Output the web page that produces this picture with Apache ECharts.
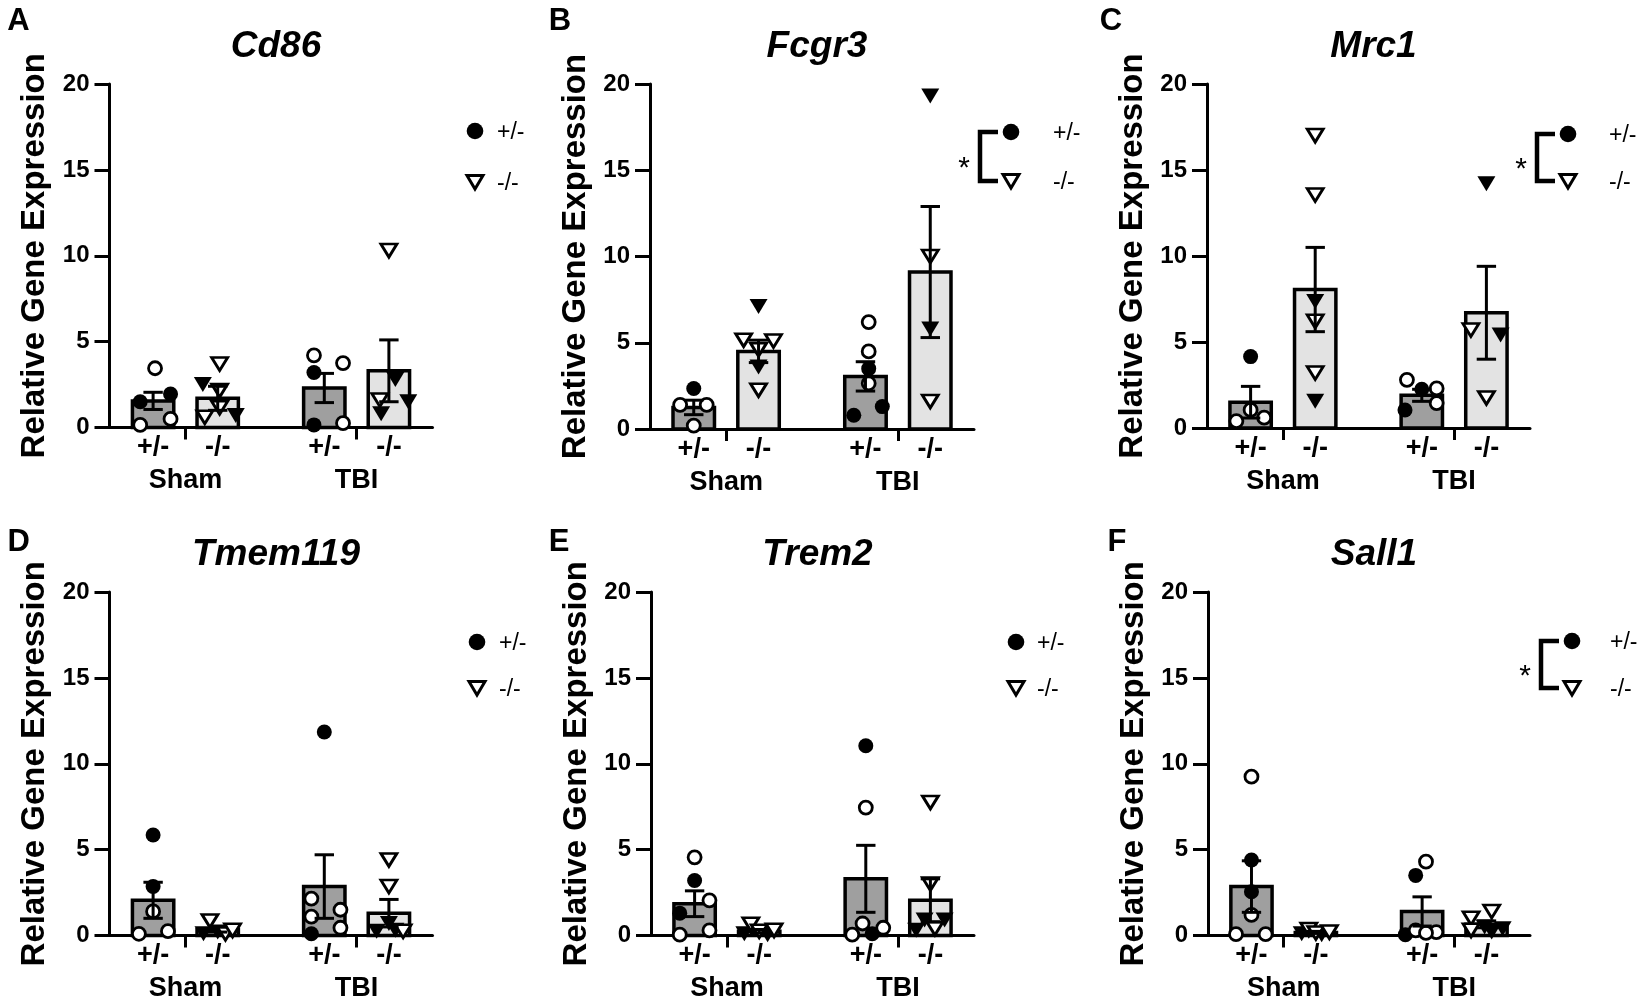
<!DOCTYPE html>
<html>
<head>
<meta charset="utf-8">
<script src="https://cdn.jsdelivr.net/npm/echarts@6/dist/echarts.min.js"></script>
<style>
html,body{margin:0;padding:0;background:#fff;}
#chart{width:1644px;height:1003px;}
</style>
</head>
<body>
<div id="chart"></div>
<script>
// ---------- data ----------
const genes = ['Cd86', 'Fcgr3', 'Mrc1', 'Tmem119', 'Trem2', 'Sall1'];
const panelLetters = ['A', 'B', 'C', 'D', 'E', 'F'];
const groupLabels = ['Sham', 'TBI'];
const genotypeLabels = ['+/-', '-/-', '+/-', '-/-'];
const yTickValues = [0, 5, 10, 15, 20];
const significant = [false, true, true, false, false, true];

// bar order: Sham +/-, Sham -/-, TBI +/-, TBI -/-
const cd86Mean = [1.55, 1.7, 2.3, 3.3];
const cd86Sem = [0.5, 0.7, 0.85, 1.8];
const cd86Points = [[3.45, 1.5, 1.95, 0.15, 0.5], [3.7, 2.5, 2.15, 1.15, 0.6, 0.7], [4.2, 3.2, 3.75, 0.15, 0.25], [10.3, 2.8, 1.6, 0.8, 1.5]];
const cd86Filled = [[0, 1, 1, 0, 0], [0, 1, 0, 0, 0, 1], [0, 1, 0, 1, 0], [0, 1, 0, 1, 1]];
const cd86Spread = [[0.03, -0.2, 0.27, -0.2, 0.27], [0.03, -0.23, 0.03, 0.03, -0.2, 0.28], [-0.16, -0.16, 0.29, -0.16, 0.29], [0, 0.1, -0.14, -0.12, 0.3]];

const fcgr3Mean = [1.25, 4.5, 3.05, 9.1];
const fcgr3Sem = [0.42, 0.65, 0.85, 3.8];
const fcgr3Points = [[2.35, 1.4, 1.4, 0.2], [7.1, 5.15, 5.1, 4.6, 3.6, 2.25], [6.2, 4.5, 3.5, 2.65, 0.8, 1.3], [19.3, 10.0, 5.8, 1.6]];
const fcgr3Filled = [[1, 0, 0, 0], [1, 0, 0, 0, 1, 0], [0, 0, 1, 0, 1, 1], [1, 0, 1, 0]];
const fcgr3Spread = [[0, -0.21, 0.2, 0], [0, -0.23, 0.23, 0, 0, 0], [0.05, 0.05, 0.05, 0.05, -0.18, 0.26], [0, 0, 0, 0]];

const mrc1Mean = [1.5, 8.05, 1.9, 6.7];
const mrc1Sem = [0.92, 2.45, 0.35, 2.7];
const mrc1Points = [[4.15, 1.05, 0.4, 0.6], [17.0, 13.55, 7.35, 6.2, 3.2, 1.55], [2.8, 2.25, 2.3, 1.05, 1.45], [14.2, 5.7, 5.4, 1.75]];
const mrc1Filled = [[1, 0, 0, 0], [0, 0, 1, 0, 0, 1], [0, 1, 0, 1, 0], [1, 0, 1, 0]];
const mrc1Spread = [[0, 0, -0.22, 0.21], [0, 0, 0, 0, 0, 0], [-0.23, 0, 0.23, -0.26, 0.23], [0, -0.24, 0.22, 0]];

const tmem119Mean = [2.05, 0.35, 2.85, 1.3];
const tmem119Sem = [1.05, 0.15, 1.85, 0.8];
const tmem119Points = [[5.85, 2.85, 1.4, 0.1, 0.25], [0.85, 0.1, 0.2, 0.1, 0.3], [11.85, 2.15, 1.1, 1.5, 0.45, 0.1], [4.4, 2.85, 0.7, 0.25, 0.25, 0.3]];
const tmem119Filled = [[1, 1, 0, 0, 0], [0, 1, 1, 0, 0], [1, 0, 0, 0, 0, 1], [0, 0, 1, 1, 0, 1]];
const tmem119Spread = [[0, 0, 0, -0.22, 0.23], [-0.12, -0.22, 0, 0.12, 0.23], [0, -0.2, -0.2, 0.25, 0.25, -0.2], [0, 0, 0, -0.19, 0.22, 0.1]];

const trem2Mean = [1.85, 0.25, 3.3, 2.05];
const trem2Sem = [0.75, 0.1, 1.95, 1.25];
const trem2Points = [[4.55, 3.2, 2.05, 1.3, 0.05, 0.3], [0.65, 0.1, 0.25, 0.05, 0.3], [11.05, 7.45, 0.7, 0.45, 0.1, 0.05], [7.75, 3.0, 0.3, 0.9, 0.4, 0.9]];
const trem2Filled = [[0, 1, 0, 1, 0, 0], [0, 1, 0, 1, 0], [1, 0, 0, 0, 1, 0], [0, 0, 1, 1, 0, 1]];
const trem2Spread = [[0, 0, 0.23, -0.23, -0.23, 0.23], [-0.13, -0.23, 0, 0.13, 0.23], [0, 0, -0.05, 0.27, 0.1, -0.21], [0, 0, -0.22, -0.09, 0.07, 0.22]];

const sall1Mean = [2.85, 0.18, 1.4, 0.65];
const sall1Sem = [1.5, 0.06, 0.85, 0.2];
const sall1Points = [[9.25, 4.4, 2.55, 1.2, 0.08, 0.08], [0.35, 0.1, 0.15, 0.05, 0.2], [4.3, 3.5, 0.3, 0.2, 0.05, 0.15], [1.4, 1.0, 0.3, 0.2, 0.4, 0.5]];
const sall1Filled = [[0, 1, 1, 0, 0, 0], [0, 1, 0, 1, 0], [0, 1, 0, 0, 1, 0], [0, 0, 0, 1, 1, 1]];
const sall1Spread = [[0, 0, 0, 0, -0.24, 0.22], [-0.11, -0.22, 0, 0.09, 0.21], [0.06, -0.1, -0.1, 0.22, -0.26, 0.06], [0.08, -0.24, -0.24, 0.08, 0.25, -0.03]];

// ---------- layout ----------
const FONT = "'Liberation Sans', Arial, Helvetica, sans-serif";
const barX = [0.675, 1.675, 3.325, 4.325];      // bar centres on the x value axis
const groupX = [1.175, 3.825];                   // group centres (separator ticks / Sham,TBI labels)
const BAR_HALF = 0.32;
const CAP_HALF = 0.15;

const grids = [
  { left: 109.5, top: 84, width: 323, height: 343.5 },
  { left: 650, top: 84, width: 324, height: 345 },
  { left: 1207, top: 84, width: 323, height: 344 },
  { left: 109.5, top: 592, width: 323, height: 343.5 },
  { left: 651, top: 592, width: 323, height: 343.5 },
  { left: 1208, top: 592, width: 322, height: 343.5 }
];
const letterPos = [[18.5, 21], [560, 21], [1111, 21], [18.6, 542], [559, 542], [1117, 542]];
// [circle x, circle y, triangle y, text gap]
const legendPos = [[475, 131, 182, 22], [1011, 132, 181, 42], [1568, 134, 181, 41], [477, 642, 688, 22], [1016, 642, 688, 21], [1572, 641, 688, 38]];

const panels = [
  { mean: cd86Mean, sem: cd86Sem, pts: cd86Points, filled: cd86Filled, spread: cd86Spread },
  { mean: fcgr3Mean, sem: fcgr3Sem, pts: fcgr3Points, filled: fcgr3Filled, spread: fcgr3Spread },
  { mean: mrc1Mean, sem: mrc1Sem, pts: mrc1Points, filled: mrc1Filled, spread: mrc1Spread },
  { mean: tmem119Mean, sem: tmem119Sem, pts: tmem119Points, filled: tmem119Filled, spread: tmem119Spread },
  { mean: trem2Mean, sem: trem2Sem, pts: trem2Points, filled: trem2Filled, spread: trem2Spread },
  { mean: sall1Mean, sem: sall1Sem, pts: sall1Points, filled: sall1Filled, spread: sall1Spread }
];

const TRI = 'path://M0,0L20,0L10,17Z';

function nearestIndex(arr, v) {
  let best = 0;
  arr.forEach((a, i) => { if (Math.abs(a - v) < Math.abs(arr[best] - v)) best = i; });
  return best;
}

const option = {
  animation: false,
  backgroundColor: '#fff',
  textStyle: { fontFamily: FONT },
  title: [],
  grid: [],
  xAxis: [],
  yAxis: [],
  series: [],
  graphic: []
};

panels.forEach((p, i) => {
  const g = grids[i];
  option.grid.push({ left: g.left, top: g.top, width: g.width, height: g.height, containLabel: false });

  option.title.push({
    text: genes[i],
    left: g.left + g.width / 2,
    top: g.top - 61,
    textAlign: 'center',
    textStyle: { fontFamily: FONT, fontSize: 37, fontWeight: 'bold', fontStyle: 'italic', color: '#000' }
  });

  option.xAxis.push({
    gridIndex: i, type: 'value', min: 0, max: 5,
    axisLine: { show: true, onZero: false, lineStyle: { color: '#000', width: 3 } },
    axisTick: { show: true, customValues: groupX, length: 12, lineStyle: { color: '#000', width: 3 } },
    axisLabel: {
      show: true, customValues: barX, margin: 7,
      formatter: v => genotypeLabels[nearestIndex(barX, v)],
      color: '#000', fontSize: 27, fontWeight: 'bold', fontFamily: FONT
    },
    splitLine: { show: false }
  });
  option.xAxis.push({
    gridIndex: i, type: 'value', min: 0, max: 5, position: 'bottom',
    axisLine: { show: false }, axisTick: { show: false },
    axisLabel: {
      show: true, customValues: groupX, margin: 40,
      formatter: v => groupLabels[nearestIndex(groupX, v)],
      color: '#000', fontSize: 27, fontWeight: 'bold', fontFamily: FONT
    },
    splitLine: { show: false }
  });

  option.yAxis.push({
    gridIndex: i, type: 'value', min: yTickValues[0], max: yTickValues[yTickValues.length - 1], interval: 5,
    axisLine: { show: true, onZero: false, lineStyle: { color: '#000', width: 3 } },
    axisTick: { show: true, length: 15, lineStyle: { color: '#000', width: 3 } },
    axisLabel: { color: '#000', fontSize: 24, fontWeight: 'bold', fontFamily: FONT, margin: 20 },
    splitLine: { show: false },
    name: 'Relative Gene Expression', nameLocation: 'middle', nameGap: 58,
    nameTextStyle: { color: '#000', fontSize: 33, fontWeight: 'bold', fontFamily: FONT }
  });

  const xi = 2 * i, yi = i;

  // bars
  option.series.push({
    type: 'custom', xAxisIndex: xi, yAxisIndex: yi, z: 2,
    encode: { x: 0, y: 1 },
    data: p.mean.map((m, k) => [barX[k], m, k]),
    renderItem: (params, api) => {
      const x = api.value(0), m = api.value(1), k = api.value(2);
      const a = api.coord([x - BAR_HALF, m]);
      const b = api.coord([x + BAR_HALF, 0]);
      return {
        type: 'rect',
        shape: { x: a[0], y: a[1], width: b[0] - a[0], height: b[1] - a[1] },
        style: { fill: k % 2 === 0 ? '#9f9f9f' : '#e3e3e3', stroke: '#000', lineWidth: 3.5 }
      };
    }
  });

  // points
  const sets = [
    { gen: [0, 2], fill: 1, symbol: 'circle', size: 15 },
    { gen: [0, 2], fill: 0, symbol: 'circle', size: 13 },
    { gen: [1, 3], fill: 1, symbol: TRI, size: [18, 15] },
    { gen: [1, 3], fill: 0, symbol: TRI, size: [16, 13] }
  ];
  sets.forEach(s => {
    const data = [];
    s.gen.forEach(k => {
      p.pts[k].forEach((v, j) => {
        if (p.filled[k][j] === s.fill) data.push([barX[k] + p.spread[k][j], v]);
      });
    });
    option.series.push({
      type: 'scatter', name: genotypeLabels[s.gen[0]], xAxisIndex: xi, yAxisIndex: yi, z: 3,
      symbol: s.symbol, symbolSize: s.size,
      itemStyle: s.fill ? { color: '#000', borderWidth: 0, opacity: 1 }
                        : { color: '#fff', borderColor: '#000', borderWidth: 2.8, opacity: 1 },
      emphasis: { disabled: true },
      data
    });
  });

  // error bars (mean ± SEM)
  option.series.push({
    type: 'custom', xAxisIndex: xi, yAxisIndex: yi, z: 4,
    encode: { x: 0, y: 1 },
    data: p.mean.map((m, k) => [barX[k], m, p.sem[k]]),
    renderItem: (params, api) => {
      const x = api.value(0), m = api.value(1), s = api.value(2);
      const t = api.coord([x, m + s]);
      const b = api.coord([x, Math.max(0, m - s)]);
      const hw = api.size([CAP_HALF, 0])[0];
      const st = { stroke: '#000', lineWidth: 3 };
      return {
        type: 'group',
        children: [
          { type: 'line', shape: { x1: t[0], y1: t[1], x2: b[0], y2: b[1] }, style: st },
          { type: 'line', shape: { x1: t[0] - hw, y1: t[1], x2: t[0] + hw, y2: t[1] }, style: st },
          { type: 'line', shape: { x1: b[0] - hw, y1: b[1], x2: b[0] + hw, y2: b[1] }, style: st }
        ]
      };
    }
  });

  // panel letter
  option.graphic.push({
    type: 'text', x: letterPos[i][0], y: letterPos[i][1],
    style: { text: panelLetters[i], fill: '#000', font: 'bold 31px ' + FONT, align: 'center', verticalAlign: 'middle', textAlign: 'center', textVerticalAlign: 'middle' }
  });

  // legend key
  const [cx, cy1, cy2, tgap] = legendPos[i];
  option.graphic.push({ type: 'circle', shape: { cx: cx, cy: cy1, r: 8.3 }, style: { fill: '#000' } });
  option.graphic.push({
    type: 'polygon', shape: { points: [[cx - 8, cy2 - 6.5], [cx + 8, cy2 - 6.5], [cx, cy2 + 7]] },
    style: { fill: '#fff', stroke: '#000', lineWidth: 3, lineJoin: 'miter' }
  });
  [[cy1, genotypeLabels[0]], [cy2, genotypeLabels[1]]].forEach(([yy, t]) => {
    option.graphic.push({
      type: 'text', x: cx + tgap, y: yy + 2,
      style: { text: t, fill: '#000', font: '23px ' + FONT, align: 'left', verticalAlign: 'middle', textAlign: 'left', textVerticalAlign: 'middle' }
    });
  });
  if (significant[i]) {
    const bx = cx - 31, ex = cx - 13;
    option.graphic.push({
      type: 'polyline', shape: { points: [[ex, cy1], [bx, cy1], [bx, cy2], [ex, cy2]] },
      style: { fill: null, stroke: '#000', lineWidth: 4.5, lineJoin: 'miter' }
    });
    option.graphic.push({
      type: 'text', x: cx - 47, y: (cy1 + cy2) / 2 + 12,
      style: { text: '*', fill: '#000', font: '30px ' + FONT, align: 'center', verticalAlign: 'middle', textAlign: 'center', textVerticalAlign: 'middle' }
    });
  }
});

const chart = echarts.init(document.getElementById('chart'), null, { renderer: 'canvas' });
chart.setOption(option);
</script>
</body>
</html>
